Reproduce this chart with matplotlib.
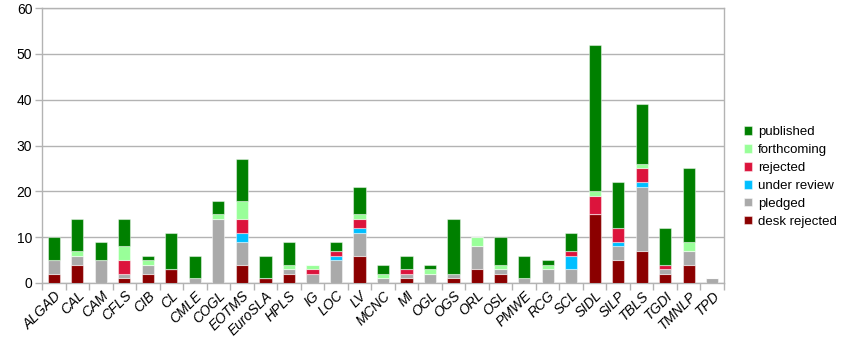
import matplotlib
matplotlib.use("Agg")
import matplotlib.pyplot as plt
import numpy as np

categories = ["ALGAD", "CAL", "CAM", "CFLS", "CIB", "CL", "CMLE", "COGL", "EOTMS",
              "EuroSLA", "HPLS", "IG", "LOC", "LV", "MCNC", "MI", "OGL", "OGS", "ORL",
              "OSL", "PMWE", "RCG", "SCL", "SIDL", "SILP", "TBLS", "TGDI", "TMNLP", "TPD"]

desk_rejected = [2, 4, 0, 1, 2, 3, 0, 0, 4, 1, 2, 0, 0, 6, 0, 1, 0, 1, 3, 2, 0, 0, 0, 15, 5, 7, 2, 4, 0]
pledged       = [3, 2, 5, 1, 2, 0, 1, 14, 5, 0, 1, 2, 5, 5, 1, 1, 2, 1, 5, 1, 1, 3, 3, 0, 3, 14, 1, 3, 1]
under_review  = [0, 0, 0, 0, 0, 0, 0, 0, 2, 0, 0, 0, 1, 1, 0, 0, 0, 0, 0, 0, 0, 0, 3, 0, 1, 1, 0, 0, 0]
rejected      = [0, 0, 0, 3, 0, 0, 0, 0, 3, 0, 0, 1, 1, 2, 0, 1, 0, 0, 0, 0, 0, 0, 1, 4, 3, 3, 1, 0, 0]
forthcoming   = [0, 1, 0, 3, 1, 0, 0, 1, 4, 0, 1, 1, 0, 1, 1, 0, 1, 0, 2, 1, 0, 1, 0, 1, 0, 1, 0, 2, 0]
published     = [5, 7, 4, 6, 1, 8, 5, 3, 9, 5, 5, 0, 2, 6, 2, 3, 1, 12, 0, 6, 5, 1, 4, 32, 10, 13, 8, 16, 0]

series = [
    ("desk rejected", desk_rejected, "#8b0000"),
    ("pledged", pledged, "#aaaaaa"),
    ("under review", under_review, "#00bfff"),
    ("rejected", rejected, "#dc143c"),
    ("forthcoming", forthcoming, "#99ff99"),
    ("published", published, "#008000"),
]

plt.rcParams['font.family'] = ['Liberation Sans', 'DejaVu Sans']

fig = plt.figure(figsize=(8.47, 3.54), dpi=100)
ax = fig.add_axes([42/847, 1-283/354, (724-42)/847, (283-8)/354])

x = np.arange(len(categories))
bottom = np.zeros(len(categories))
handles = []
for name, vals, col in series:
    v = np.array(vals, dtype=float)
    b = ax.bar(x, v, 0.52, bottom=bottom, color=col, label=name,
               edgecolor=(1, 1, 1, 0.45), linewidth=0.8, zorder=3)
    handles.append(b)
    bottom += v

ax.set_xlim(-0.5, len(categories) - 0.5)
ax.set_ylim(0, 60)
ax.set_yticks(range(0, 61, 10))
ax.yaxis.grid(True, color="#b3b3b3", linewidth=1, zorder=0)

ax.set_xticks(np.arange(-0.5, len(categories), 1.0))
ax.set_xticklabels([])
ax.set_xticks(x, minor=True)
ax.set_xticklabels(categories, minor=True, rotation=45, ha="right", va="top",
                   rotation_mode="anchor", fontstyle="italic", fontsize=10)
ax.tick_params(axis="x", which="major", length=5, color="#b3b3b3", width=1)
ax.tick_params(axis="x", which="minor", length=0, pad=4)
ax.tick_params(axis="y", length=5, color="#b3b3b3", width=1, labelsize=10, pad=2)

for s in ax.spines.values():
    s.set_color("#b3b3b3")
    s.set_linewidth(1)

leg = fig.legend(handles[::-1], [h.get_label() for h in handles[::-1]],
                 loc="center left", bbox_to_anchor=(744/847, 1-177/354), frameon=False,
                 borderpad=0, borderaxespad=0,
                 handlelength=0.6, handleheight=0.6, handletextpad=0.45,
                 labelspacing=0.45, fontsize=9.5)

fig.savefig("out.png", dpi=100)
